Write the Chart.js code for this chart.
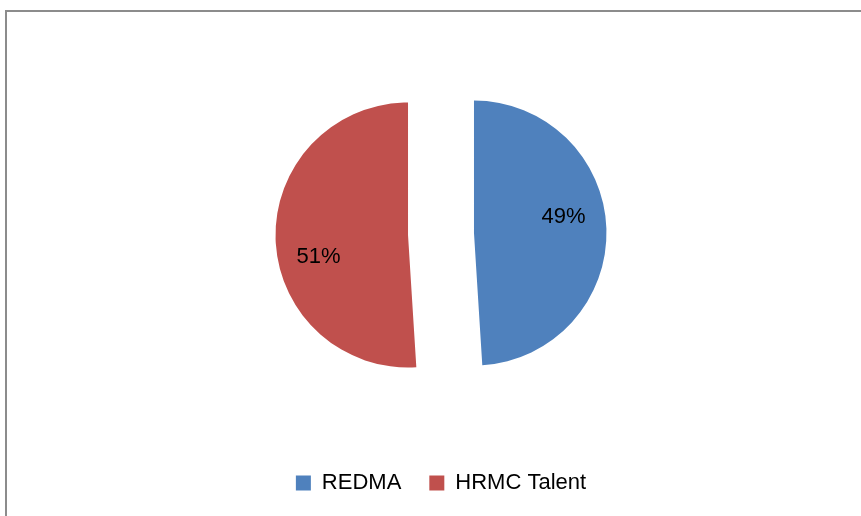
<!DOCTYPE html>
<html>
<head>
<meta charset="utf-8">
<script src="https://cdn.jsdelivr.net/npm/chart.js@4/dist/chart.umd.min.js"></script>
<style>
  html, body { margin: 0; padding: 0; background: #fff; overflow: hidden; }
  #wrap { position: relative; width: 861px; height: 516px; }
  #frame {
    position: absolute; left: 5px; top: 10px;
    width: 1000px; height: 1000px;
    border: 2px solid #8c8c8c;
  }
  #myChart { position: absolute; left: 0; top: 0; }
</style>
</head>
<body>
<div id="wrap">
  <div id="frame"></div>
  <canvas id="myChart" width="861" height="516"></canvas>
</div>
<script>
const labels = ["REDMA", "HRMC Talent"];
const shares = [49, 51];
const sliceColors = ["#4f81bd", "#c0504d"];

const explodeDist = 33;
const fontFamily = "'Liberation Sans', Arial, sans-serif";

// pull each slice straight out along its middle angle
const explodedSlices = {
  id: "explodedSlices",
  beforeDatasetDraw(chart, args) {
    const ctx = chart.ctx;
    args.meta.data.forEach((arc) => {
      const p = arc.getProps(["startAngle", "endAngle"], true);
      const mid = (p.startAngle + p.endAngle) / 2;
      ctx.save();
      ctx.translate(Math.cos(mid) * explodeDist, Math.sin(mid) * explodeDist);
      arc.draw(ctx);
      ctx.restore();
    });
    return false;
  },
};

// percentage text inside each slice
const sliceLabels = {
  id: "sliceLabels",
  afterDatasetsDraw(chart) {
    const ctx = chart.ctx;
    const meta = chart.getDatasetMeta(0);
    const total = shares.reduce((a, b) => a + b, 0);
    ctx.save();
    ctx.font = "22px " + fontFamily;
    ctx.fillStyle = "#000";
    ctx.textAlign = "center";
    ctx.textBaseline = "middle";
    meta.data.forEach((arc, i) => {
      const p = arc.getProps(["x", "y", "startAngle", "endAngle", "outerRadius"], true);
      const mid = (p.startAngle + p.endAngle) / 2;
      const cx = p.x + Math.cos(mid) * explodeDist;
      const cy = p.y + Math.sin(mid) * explodeDist;
      const a = mid - 10 * Math.PI / 180;
      const r = p.outerRadius * 0.69;
      const pct = Math.round((shares[i] / total) * 100) + "%";
      ctx.fillText(pct, cx + Math.cos(a) * r, cy + Math.sin(a) * r + 3);
    });
    ctx.restore();
  },
};

new Chart("myChart", {
  type: "pie",
  data: {
    labels: labels,
    datasets: [
      {
        data: shares,
        backgroundColor: sliceColors,
        borderWidth: 0,
      },
    ],
  },
  options: {
    responsive: false,
    animation: false,
    radius: 132.5,
    layout: { padding: { left: 21, right: 0, top: 24, bottom: 12 } },
    plugins: {
      tooltip: { enabled: false },
      legend: {
        position: "bottom",
        labels: {
          boxWidth: 15,
          boxHeight: 15,
          padding: 28,
          color: "#000",
          font: { family: fontFamily, size: 22 },
        },
      },
    },
  },
  plugins: [explodedSlices, sliceLabels],
});
</script>
</body>
</html>
